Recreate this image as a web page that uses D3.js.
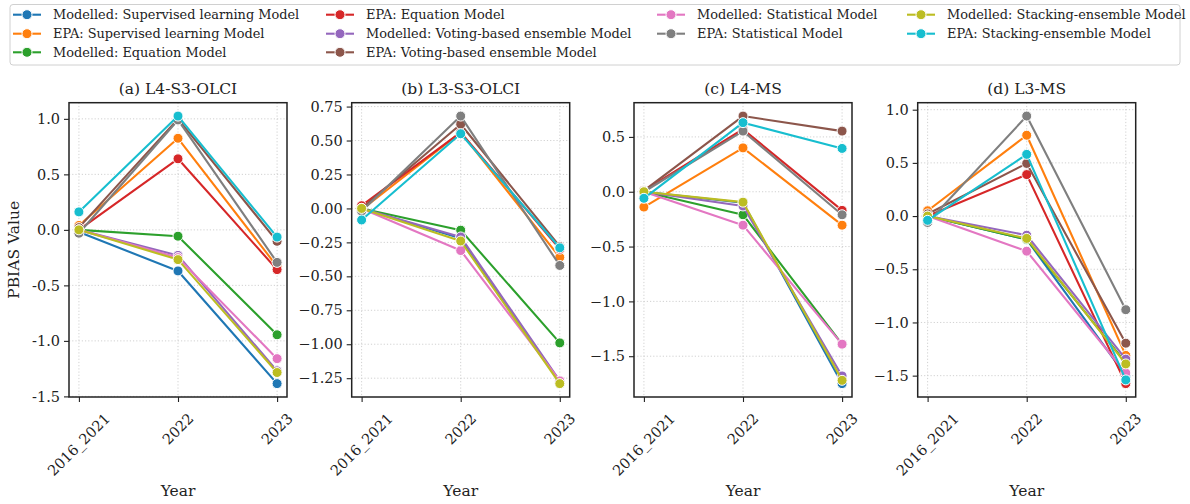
<!DOCTYPE html>
<html>
<head>
<meta charset="utf-8">
<script src="https://cdn.jsdelivr.net/npm/d3@7"></script>
<style>
  html, body { margin: 0; padding: 0; background: #fff; }
  svg { display: block; font-family: "DejaVu Serif", serif; }
</style>
</head>
<body>
<svg id="chart" width="1190" height="504"></svg>
<script>
// Categories on the x axis
const years = ["2016_2021", "2022", "2023"];

// Series names, in legend order
const seriesNames = [
  "Modelled: Supervised learning Model",
  "EPA: Supervised learning Model",
  "Modelled: Equation Model",
  "EPA: Equation Model",
  "Modelled: Voting-based ensemble Model",
  "EPA: Voting-based ensemble Model",
  "Modelled: Statistical Model",
  "EPA: Statistical Model",
  "Modelled: Stacking-ensemble Model",
  "EPA: Stacking-ensemble Model"
];
const seriesColors = ["#1f77b4", "#ff7f0e", "#2ca02c", "#d62728", "#9467bd",
                      "#8c564b", "#e377c2", "#7f7f7f", "#bcbd22", "#17becf"];

// PBIAS values per panel: one row per series, one value per year
const l4S3Olci = [
  [-0.02, -0.37, -1.385],
  [0.04, 0.825, -0.33],
  [0.0, -0.057, -0.945],
  [0.0, 0.64, -0.358],
  [0.0, -0.23, -1.27],
  [0.02, 1.0, -0.103],
  [0.0, -0.25, -1.16],
  [-0.03, 0.99, -0.293],
  [0.0, -0.268, -1.285],
  [0.162, 1.025, -0.065]
];
const l3S3Olci = [
  [0.0, -0.22, -1.28],
  [-0.01, 0.56, -0.36],
  [0.0, -0.16, -0.99],
  [0.02, 0.56, -0.30],
  [0.0, -0.21, -1.27],
  [0.0, 0.62, -0.28],
  [0.0, -0.31, -1.27],
  [-0.02, 0.68, -0.42],
  [0.0, -0.24, -1.29],
  [-0.085, 0.55, -0.29]
];
const l4Ms = [
  [0.0, -0.10, -1.75],
  [-0.14, 0.40, -0.305],
  [0.0, -0.21, -1.39],
  [0.01, 0.57, -0.17],
  [0.0, -0.13, -1.68],
  [0.01, 0.69, 0.553],
  [0.0, -0.305, -1.39],
  [0.0, 0.553, -0.21],
  [0.0, -0.095, -1.72],
  [-0.06, 0.63, 0.395]
];
const l3Ms = [
  [0.0, -0.22, -1.50],
  [0.05, 0.76, -1.31],
  [0.0, -0.22, -1.38],
  [0.0, 0.39, -1.575],
  [0.0, -0.18, -1.345],
  [0.02, 0.495, -1.195],
  [0.0, -0.33, -1.475],
  [-0.06, 0.94, -0.88],
  [0.0, -0.21, -1.39],
  [-0.04, 0.58, -1.54]
];

const panelTitles = ["(a) L4-S3-OLCI", "(b) L3-S3-OLCI", "(c) L4-MS", "(d) L3-MS"];
const panelData = [l4S3Olci, l3S3Olci, l4Ms, l3Ms];

// Y tick values per panel
const yTicksA = [-1.5, -1.0, -0.5, 0.0, 0.5, 1.0];
const yTicksB = [-1.25, -1.0, -0.75, -0.5, -0.25, 0.0, 0.25, 0.5, 0.75];
const yTicksC = [-1.5, -1.0, -0.5, 0.0, 0.5];
const yTicksD = [-1.5, -1.0, -0.5, 0.0, 0.5, 1.0];
const panelTicks = [yTicksA, yTicksB, yTicksC, yTicksD];

// Tick label formatters (first panel uses a plain hyphen)
const fmtA = v => d3.format(".1f")(v).replace("−", "-");
const fmt1 = v => d3.format(".1f")(v).replace("-", "−");
const fmt2 = v => d3.format(".2f")(v).replace("-", "−");
const panelFormats = [fmtA, fmt2, fmt1, fmt1];

const svg = d3.select("#chart");

// Layout
const panelLefts = [69, 351.7, 634, 917.7];
const panelW = 218;
const plotTop = 102.7, plotBottom = 397;
const tickFont = 14.5, labelFont = 15.5, titleFont = 15.5, legendFont = 12.9;

panelData.forEach((rows, p) => {
  const x0 = panelLefts[p];
  const g = svg.append("g");

  // point scale with 5% margins on each side of the category span
  const step = panelW / 2.2;
  const x = d3.scalePoint().domain(years)
    .range([x0 + 0.1 * step, x0 + panelW - 0.1 * step]).padding(0);

  const all = rows.flat();
  const lo = d3.min(all), hi = d3.max(all), m = (hi - lo) * 0.05;
  const y = d3.scaleLinear().domain([lo - m, hi + m]).range([plotBottom, plotTop]);

  // grid
  const grid = g.append("g").attr("stroke", "#cccccc").attr("stroke-width", 0.9)
    .attr("stroke-dasharray", "1.2,2");
  panelTicks[p].forEach(t => {
    grid.append("line").attr("x1", x0).attr("x2", x0 + panelW)
      .attr("y1", y(t)).attr("y2", y(t));
  });
  years.forEach(yr => {
    grid.append("line").attr("x1", x(yr)).attr("x2", x(yr))
      .attr("y1", plotTop).attr("y2", plotBottom);
  });

  // y axis
  const yAxis = d3.axisLeft(y).tickValues(panelTicks[p]).tickFormat(panelFormats[p])
    .tickSize(5).tickPadding(4);
  const ya = g.append("g").attr("transform", `translate(${x0},0)`).call(yAxis);
  ya.select(".domain").remove();
  ya.selectAll("text").attr("font-size", tickFont).attr("fill", "#222")
    .attr("font-family", "DejaVu Serif");
  ya.selectAll("line").attr("stroke", "#222").attr("stroke-width", 1.1);

  // x axis
  const xAxis = d3.axisBottom(x).tickSize(5).tickFormat("");
  const xa = g.append("g").attr("transform", `translate(0,${plotBottom})`).call(xAxis);
  xa.select(".domain").remove();
  xa.selectAll("line").attr("stroke", "#222").attr("stroke-width", 1.1);

  // rotated x tick labels, bounding box centred on the tick
  years.forEach(yr => {
    const t = g.append("text").text(yr).attr("font-size", tickFont)
      .attr("fill", "#222").attr("text-anchor", "middle")
      .attr("dominant-baseline", "central");
    const L = t.node().getComputedTextLength();
    const h = tickFont * 1.15;
    const d = (L + h) / Math.SQRT2;
    const cx = x(yr), cy = 410 + d / 2;
    t.attr("x", cx).attr("y", cy).attr("transform", `rotate(-45,${cx},${cy})`);
  });

  // series lines and markers
  const line = d3.line().x((d, i) => x(years[i])).y(d => y(d));
  rows.forEach((vals, s) => {
    g.append("path").datum(vals).attr("d", line).attr("fill", "none")
      .attr("stroke", seriesColors[s]).attr("stroke-width", 2.1)
      .attr("stroke-linejoin", "round").attr("stroke-linecap", "round");
    g.selectAll(null).data(vals).enter().append("circle")
      .attr("cx", (d, i) => x(years[i])).attr("cy", d => y(d)).attr("r", 5)
      .attr("fill", seriesColors[s]).attr("stroke", "#fff").attr("stroke-width", 1);
  });

  // frame
  g.append("rect").attr("x", x0).attr("y", plotTop).attr("width", panelW)
    .attr("height", plotBottom - plotTop).attr("fill", "none")
    .attr("stroke", "#222").attr("stroke-width", 1.5);

  // title and x label
  g.append("text").text(panelTitles[p]).attr("x", x0 + panelW / 2).attr("y", 89)
    .attr("text-anchor", "middle").attr("dominant-baseline", "central")
    .attr("font-size", titleFont).attr("fill", "#222");
  g.append("text").text("Year").attr("x", x0 + panelW / 2).attr("y", 491)
    .attr("text-anchor", "middle").attr("dominant-baseline", "central")
    .attr("font-size", labelFont).attr("fill", "#222");
});

// y label
svg.append("text").text("PBIAS Value")
  .attr("transform", `translate(14,${(plotTop + plotBottom) / 2}) rotate(-90)`)
  .attr("text-anchor", "middle").attr("dominant-baseline", "central")
  .attr("font-size", labelFont).attr("fill", "#222");

// legend: four columns holding 3, 3, 2 and 2 entries
const legend = svg.append("g");
legend.append("rect").attr("x", 10).attr("y", 4.5).attr("width", 1170).attr("height", 60.5)
  .attr("rx", 3).attr("fill", "#fff").attr("stroke", "#d0d0d0").attr("stroke-width", 1);
const colStarts = [13, 326, 657, 907];
const rowYs = [14.7, 33.7, 52.3];
const colSizes = [3, 3, 2, 2];
let idx = 0;
colSizes.forEach((n, col) => {
  for (let row = 0; row < n; row++, idx++) {
    const lx = colStarts[col], ly = rowYs[row];
    legend.append("line").attr("x1", lx).attr("x2", lx + 28).attr("y1", ly).attr("y2", ly)
      .attr("stroke", seriesColors[idx]).attr("stroke-width", 2.1);
    legend.append("circle").attr("cx", lx + 14).attr("cy", ly).attr("r", 5)
      .attr("fill", seriesColors[idx]).attr("stroke", "#fff").attr("stroke-width", 1);
    legend.append("text").text(seriesNames[idx]).attr("x", lx + 40).attr("y", ly)
      .attr("dominant-baseline", "central").attr("font-size", legendFont).attr("fill", "#222");
  }
});
</script>
</body>
</html>
